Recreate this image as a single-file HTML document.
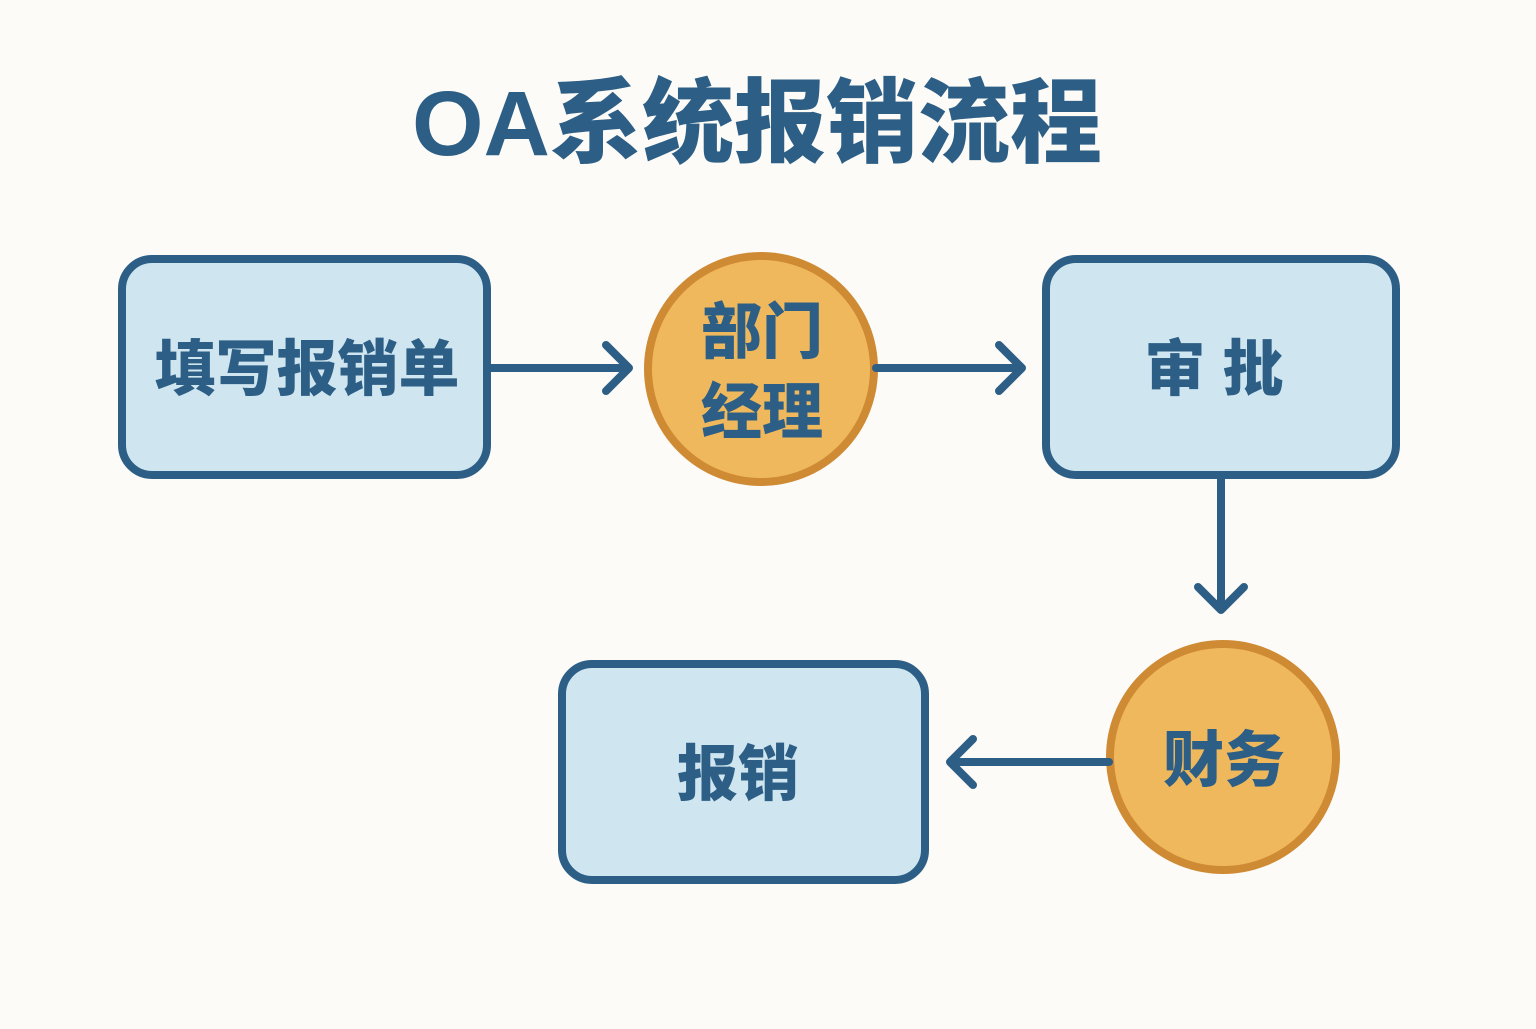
<!DOCTYPE html>
<html><head><meta charset="utf-8"><style>
html,body{margin:0;padding:0;background:#fcfbf7;}
body{width:1536px;height:1024px;overflow:hidden;}
text{font-family:"Liberation Sans","Noto Sans CJK SC",sans-serif;font-weight:900;fill:#2d5f86;}
</style></head><body>
<svg width="1536" height="1024" viewBox="0 0 1536 1024">
<rect width="1536" height="1024" fill="#fcfbf7"/>
<text x="757" y="155" font-size="92" text-anchor="middle">OA系统报销流程</text>
<g stroke="#2d5f86" stroke-width="8" fill="#cfe6f1">
<rect x="122" y="259" width="365" height="216" rx="30"/>
<rect x="1046" y="259" width="350" height="216" rx="30"/>
<rect x="562" y="664" width="363" height="216" rx="30"/>
</g>
<g stroke="#cf8a34" stroke-width="8" fill="#f0b85c">
<circle cx="761" cy="369" r="113"/>
<circle cx="1223" cy="757" r="113"/>
</g>
<g stroke="#2d5f86" stroke-width="8" fill="none" stroke-linecap="round" stroke-linejoin="round">
<line x1="488" y1="368" x2="628" y2="368"/><polyline points="606,345 629,368 606,391"/>
<line x1="876" y1="368" x2="1020" y2="368"/><polyline points="999,345 1022,368 999,391"/>
<line x1="1221" y1="476" x2="1221" y2="608"/><polyline points="1198,587 1221,610 1244,587"/>
<line x1="1109" y1="762" x2="952" y2="762"/><polyline points="973,739 950,762 973,785"/>
</g>
<g font-size="61" text-anchor="middle">
<text x="307" y="390">填写报销单</text>
<text x="1214" y="390">审 批</text>
<text x="738" y="795">报销</text>
<text x="762" y="353">部门</text>
<text x="762" y="433">经理</text>
<text x="1224" y="781">财务</text>
</g>
</svg>
</body></html>
